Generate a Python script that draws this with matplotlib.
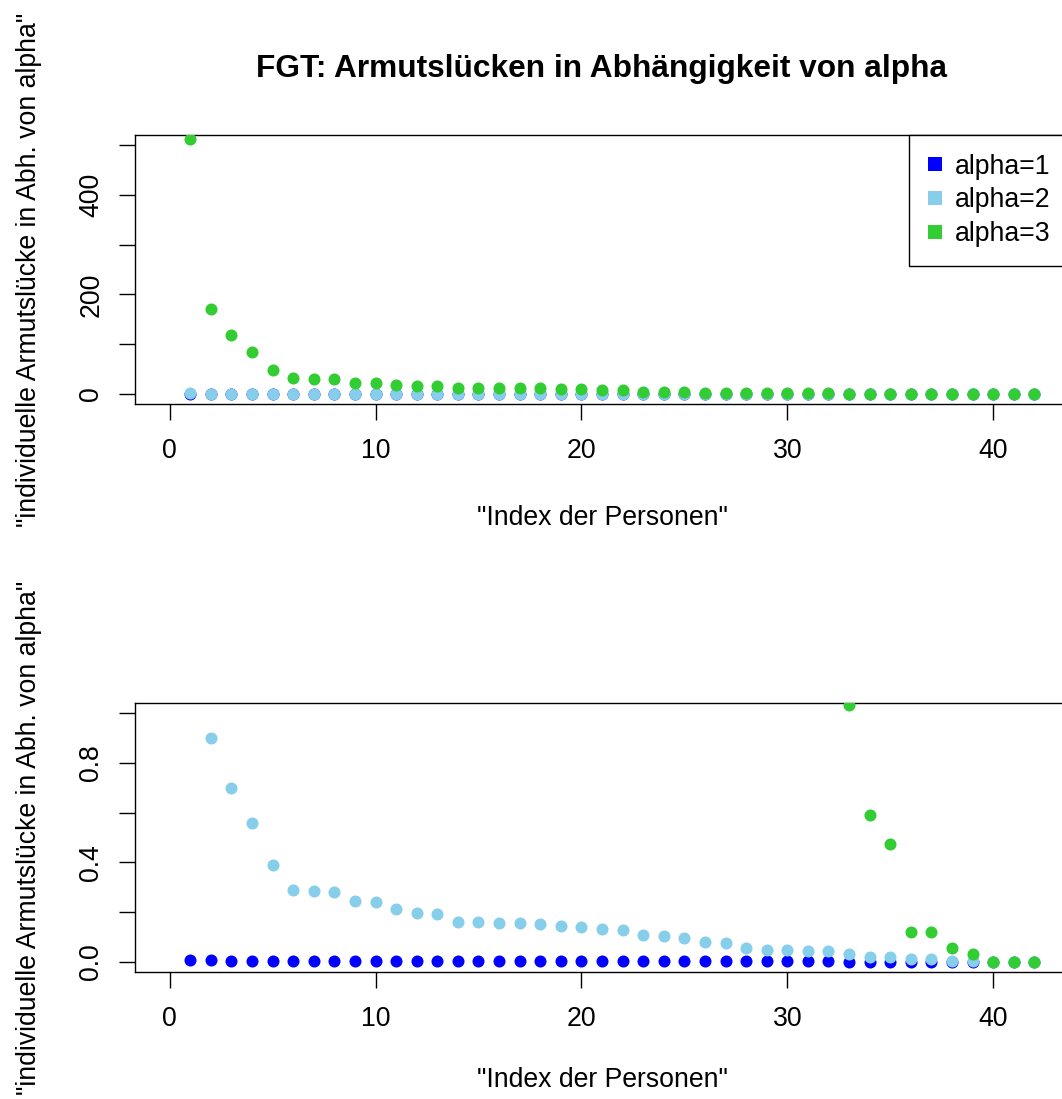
import matplotlib
matplotlib.use("Agg")
import matplotlib.pyplot as plt
from matplotlib.lines import Line2D
import numpy as np

plt.rcParams['font.family'] = ['Liberation Sans', 'DejaVu Sans']

# ---------------- data ----------------
person_index = list(range(1, 43))

alpha1 = [0.007, 0.007, 0.003, 0.003, 0.003, 0.003, 0.003, 0.003, 0.003, 0.003,
          0.003, 0.003, 0.003, 0.003, 0.003, 0.003, 0.003, 0.003, 0.003, 0.003,
          0.003, 0.003, 0.003, 0.003, 0.003, 0.003, 0.003, 0.003, 0.003, 0.003,
          0.003, 0.003, 0.002, 0.002, 0.002, 0.001, 0.001, 0.0005, 0.0005, 0.0,
          0.0, 0.0]

alpha2 = [1.3, 0.898, 0.699, 0.559, 0.391, 0.291, 0.287, 0.283, 0.247, 0.243,
          0.211, 0.195, 0.191, 0.159, 0.159, 0.155, 0.155, 0.151, 0.143, 0.139,
          0.131, 0.127, 0.107, 0.103, 0.095, 0.079, 0.075, 0.055, 0.047, 0.047,
          0.043, 0.043, 0.031, 0.019, 0.019, 0.011, 0.011, 0.003, 0.003, 0.0,
          0.0, 0.0]

alpha3 = [511.0, 171.0, 118.0, 84.0, 48.0, 32.0, 30.0, 30.0, 23.0, 23.0,
          18.0, 16.0, 16.0, 12.0, 12.0, 12.0, 12.0, 12.0, 9.3, 9.3,
          8.0, 8.0, 4.0, 4.5, 4.5, 2.7, 2.7, 1.6, 1.5, 1.4,
          1.3, 1.2, 1.033, 0.591, 0.475, 0.119, 0.119, 0.055, 0.031, 0.0,
          0.0, 0.0]

series_labels = ["alpha=1", "alpha=2", "alpha=3"]
series_colors = ["#0000FF", "#87CEEB", "#32CD32"]

x_ticks = [0, 10, 20, 30, 40]
top_yticks = [0, 100, 200, 300, 400, 500]
top_yticklabels = ["0", "", "200", "", "400", ""]
bot_yticks = [0.0, 0.2, 0.4, 0.6, 0.8, 1.0]
bot_yticklabels = ["0.0", "", "0.4", "", "0.8", ""]

title = "FGT: Armutslücken in Abhängigkeit von alpha"
xlabel = '"Index der Personen"'
ylabel = '"individuelle Armutslücke in Abh. von alpha"'

# ---------------- figure ----------------
W, H = 1062, 1099
fig = plt.figure(figsize=(W / 100, H / 100), dpi=100)

left_px, right_px = 135, 1069
top_axes = fig.add_axes([left_px / W, 1 - 404 / H, (right_px - left_px) / W, 269 / H])
bot_axes = fig.add_axes([left_px / W, 1 - 972 / H, (right_px - left_px) / W, 269 / H])

FS = 19.2
marker_s = 75

def style(ax, yticks, yticklabels, ylim, xlab_y):
    for c, vals in zip(series_colors, [alpha1, alpha2, alpha3]):
        ax.scatter(person_index, vals, s=marker_s, color=c, linewidths=0, zorder=3)
    ax.set_xlim(-1.68, 43.68)
    ax.set_ylim(*ylim)
    ax.set_xticks(x_ticks)
    ax.set_xticklabels([str(t) for t in x_ticks])
    ax.set_yticks(yticks)
    ax.set_yticklabels(yticklabels)
    ax.tick_params(axis='x', direction='out', length=11.5, width=1.0, pad=13,
                   labelsize=FS, color='black')
    ax.tick_params(axis='y', direction='out', length=11.5, width=1.0, pad=10.5,
                   labelsize=FS, color='black', labelrotation=90)
    for lab in ax.get_yticklabels():
        lab.set_va('center')
        lab.set_ha('right')
    for sp in ax.spines.values():
        sp.set_linewidth(1.0)
        sp.set_color('black')
    ax.set_xlabel(xlabel, fontsize=FS, va='center')
    ax.xaxis.set_label_coords(0.5, xlab_y)
    ax.set_ylabel(ylabel, fontsize=FS, va='center')
    ax.yaxis.set_label_coords((29 - left_px) / (right_px - left_px), 0.5)

style(top_axes, top_yticks, top_yticklabels, (-20, 520), -(518 - 404) / 269)
style(bot_axes, bot_yticks, bot_yticklabels, (-0.04, 1.04), -(1080 - 972) / 269)

top_axes.set_title(title, fontsize=22.8, fontweight='bold', va='center',
                   y=1 + (135 - 69) / 269, pad=0)

handles = [Line2D([], [], linestyle='none', marker='s', markersize=9.6,
                  markerfacecolor=c, markeredgewidth=0) for c in series_colors]
leg = top_axes.legend(handles, series_labels, loc='upper right',
                      bbox_to_anchor=(1, 1), borderaxespad=0, fontsize=FS,
                      frameon=True, fancybox=False, framealpha=1,
                      edgecolor='black', handlelength=0.5,
                      handletextpad=0.5, borderpad=0.7, labelspacing=0.29)
leg.get_frame().set_linewidth(1.0)

fig.savefig("out.png", dpi=100)
